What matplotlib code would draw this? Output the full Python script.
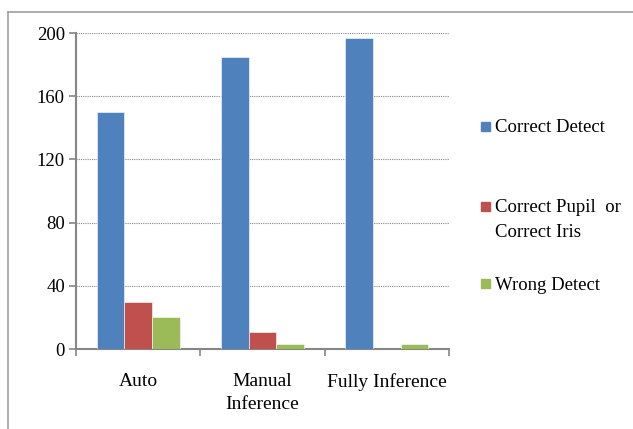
import matplotlib
matplotlib.use('Agg')
import matplotlib.pyplot as plt
import numpy as np
from matplotlib.lines import Line2D
from matplotlib.patches import Rectangle

categories = ["Auto", "Manual\nInference", "Fully Inference"]
series_names = ["Correct Detect", "Correct Pupil  or\nCorrect Iris", "Wrong Detect"]
correct_detect = [150, 185, 197]
correct_pupil_iris = [30, 11, 0]
wrong_detect = [20, 3, 3]
colors = ["#4F81BD", "#C0504D", "#9BBB59"]
yticks = [0, 40, 80, 120, 160, 200]

plt.rcParams['font.family'] = ['Liberation Serif', 'DejaVu Serif']

W, H = 633, 429
fig = plt.figure(figsize=(W / 100, H / 100), dpi=100)
ax = fig.add_axes([76 / W, 1 - 349 / H, (449 - 76) / W, (349 - 33) / H])

x = np.arange(len(categories))
width = 0.223
for i, vals in enumerate([correct_detect, correct_pupil_iris, wrong_detect]):
    ax.bar(x + (i - 1) * width, vals, width, color=colors[i],
           edgecolor='white', linewidth=0.4, zorder=3)

ax.set_xlim(-0.5, 2.5)
ax.set_ylim(0, 200)
ax.set_yticks(yticks)
ax.set_xticks(x)
ax.set_xticklabels(categories, fontsize=14, linespacing=1.4)
ax.tick_params(axis='y', labelsize=13.5, length=5, color='#868686', width=1.2, pad=3)
ax.tick_params(axis='x', length=0, pad=17.5)
# category separators on the x axis
ax.set_xticks([-0.5, 0.5, 1.5, 2.5], minor=True)
ax.tick_params(axis='x', which='minor', length=5, color='#868686', width=1.2, direction='out')
ax.grid(axis='y', linestyle=(0, (1, 1)), color='#868686', linewidth=0.8, zorder=0)
for s in ['top', 'right']:
    ax.spines[s].set_visible(False)
for s in ['left', 'bottom']:
    ax.spines[s].set_color('#868686')
    ax.spines[s].set_linewidth(1.5)

# legend drawn by hand: marker aligned with first text line, as in Excel
leg_y = [126, 206, 283]
for c, name, yy in zip(colors, series_names, leg_y):
    fig.add_artist(Rectangle((481 / W, 1 - (yy + 4.5) / H), 9 / W, 9 / H,
                             transform=fig.transFigure, color=c))
    for k, line in enumerate(name.split('\n')):
        fig.text(495 / W, 1 - (yy + 6.5 + 24 * k) / H, line, fontsize=13.5,
                 va='baseline', ha='left')

# outer chart border (top and left edges visible)
fig.add_artist(Line2D([8 / W, 1], [1 - 12 / H, 1 - 12 / H], color='#A0A0A0', linewidth=1.2))
fig.add_artist(Line2D([8 / W, 8 / W], [0, 1 - 12 / H], color='#A0A0A0', linewidth=1.2))

fig.savefig('out.png', dpi=100)
